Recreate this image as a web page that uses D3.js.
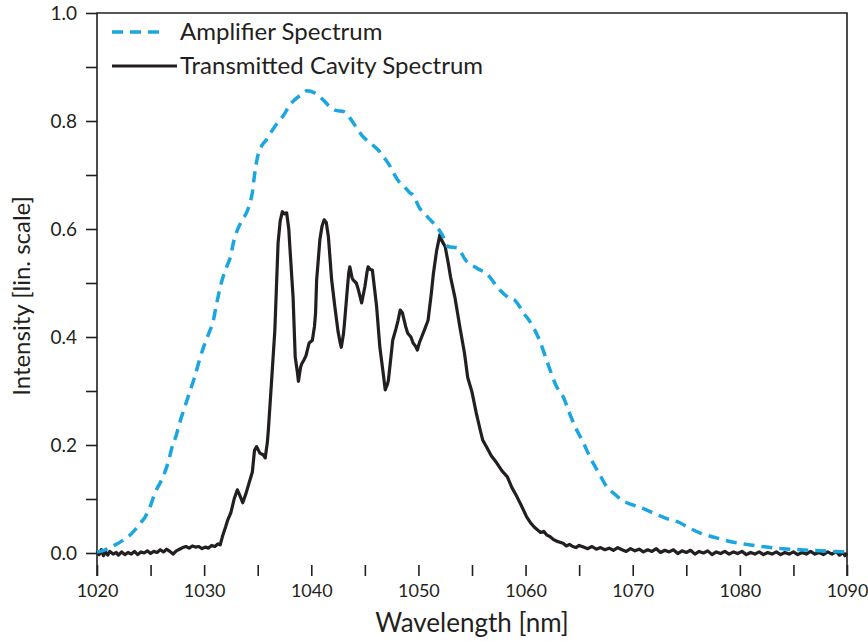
<!DOCTYPE html>
<html>
<head>
<meta charset="utf-8">
<script src="https://cdn.jsdelivr.net/npm/d3@7"></script>
<style>
  body { margin: 0; background: #fff; }
  text { font-family: Lato, "Open Sans", sans-serif; fill: #231f20; }
</style>
</head>
<body>
<div id="chart"></div>
<script>
// amplifier spectrum (dashed blue), [wavelength nm, intensity]
var ampSpectrum = [
  [1020.0,0.002],[1020.5,0.004],[1021.0,0.008],[1021.7,0.015],[1022.3,0.022],[1022.9,0.030],
  [1023.5,0.042],[1024.0,0.054],[1024.5,0.067],[1025.0,0.088],[1025.4,0.111],[1025.9,0.130],
  [1026.3,0.148],[1026.7,0.172],[1027.0,0.196],[1027.4,0.218],[1027.7,0.240],[1028.1,0.265],
  [1028.5,0.289],[1029.1,0.325],[1029.6,0.360],[1030.1,0.390],[1030.5,0.410],[1030.8,0.426],
  [1031.2,0.465],[1031.6,0.500],[1032.1,0.530],[1032.4,0.545],[1032.8,0.580],[1033.1,0.598],
  [1033.5,0.615],[1034.0,0.632],[1034.3,0.650],[1034.5,0.667],[1034.7,0.700],[1035.0,0.735],
  [1035.4,0.755],[1035.8,0.765],[1036.2,0.778],[1036.6,0.790],[1037.0,0.800],[1037.4,0.810],
  [1038.0,0.830],[1038.5,0.840],[1039.0,0.848],[1039.6,0.856],[1040.3,0.852],[1040.8,0.845],
  [1041.3,0.835],[1041.8,0.825],[1042.2,0.820],[1043.1,0.817],[1043.8,0.800],[1044.2,0.788],
  [1044.7,0.774],[1045.2,0.764],[1045.7,0.756],[1046.4,0.743],[1046.8,0.732],[1047.3,0.718],
  [1047.7,0.703],[1048.1,0.690],[1048.7,0.678],[1049.2,0.667],[1049.5,0.663],[1050.1,0.639],
  [1050.6,0.628],[1051.1,0.617],[1051.4,0.611],[1052.2,0.590],[1052.8,0.567],[1053.6,0.565],
  [1054.5,0.540],[1055.5,0.527],[1056.5,0.515],[1057.0,0.502],[1057.6,0.487],[1058.5,0.472],
  [1059.0,0.468],[1059.8,0.445],[1060.7,0.419],[1061.3,0.394],[1062.0,0.355],[1062.9,0.308],
  [1063.5,0.290],[1064.1,0.259],[1064.6,0.235],[1065.4,0.204],[1066.0,0.178],[1066.9,0.146],
  [1067.5,0.125],[1068.2,0.111],[1069.0,0.098],[1070.0,0.089],[1071.0,0.082],[1071.9,0.074],
  [1073.0,0.065],[1074.4,0.056],[1075.3,0.046],[1076.3,0.037],[1077.8,0.028],[1079.4,0.020],
  [1081.0,0.015],[1082.5,0.011],[1084.0,0.008],[1085.6,0.006],[1087.5,0.004],[1090.0,0.002]
];

// transmitted cavity spectrum (solid black)
var cavitySpectrum = [
  [1020.0,0.004],[1020.2,-0.003],[1020.4,0.006],[1020.6,-0.005],[1020.8,0.002],[1021.0,-0.004],
  [1021.2,0.003],[1021.5,-0.002],[1021.8,0.001],[1022.0,-0.004],[1022.3,0.002],[1022.6,-0.003],
  [1022.9,0.001],[1023.2,-0.002],[1023.5,0.003],[1023.8,-0.003],[1024.1,0.002],[1024.4,0.000],
  [1024.7,0.004],[1025.0,-0.001],[1025.3,0.003],[1025.6,0.001],[1025.9,0.006],[1026.2,0.002],
  [1026.5,0.007],[1026.8,0.003],[1027.1,-0.002],[1027.4,0.004],[1027.7,0.007],[1028.0,0.010],
  [1028.3,0.012],[1028.6,0.009],[1028.9,0.013],[1029.2,0.011],[1029.5,0.012],[1029.8,0.008],
  [1030.1,0.011],[1030.4,0.009],[1030.7,0.014],[1031.0,0.012],[1031.3,0.017],[1031.5,0.015],
  [1031.7,0.030],[1032.0,0.048],[1032.2,0.061],[1032.5,0.075],[1032.8,0.100],[1033.1,0.117],
  [1033.3,0.108],[1033.6,0.093],[1033.9,0.110],[1034.2,0.130],[1034.5,0.150],[1034.7,0.190],
  [1034.9,0.197],[1035.2,0.185],[1035.5,0.182],[1035.7,0.176],[1035.9,0.205],[1036.0,0.230],
  [1036.1,0.260],[1036.3,0.320],[1036.6,0.413],[1036.9,0.574],[1037.1,0.615],[1037.3,0.632],
  [1037.5,0.628],[1037.7,0.630],[1037.9,0.600],[1038.0,0.567],[1038.3,0.474],[1038.5,0.363],
  [1038.7,0.335],[1038.8,0.318],[1039.0,0.344],[1039.1,0.350],[1039.3,0.357],[1039.5,0.365],
  [1039.8,0.389],[1040.1,0.394],[1040.3,0.420],[1040.4,0.444],[1040.5,0.506],[1040.6,0.530],
  [1040.8,0.580],[1041.0,0.605],[1041.2,0.617],[1041.4,0.612],[1041.6,0.585],[1041.9,0.506],
  [1042.2,0.456],[1042.5,0.410],[1042.7,0.389],[1042.8,0.381],[1043.0,0.405],[1043.1,0.426],
  [1043.3,0.474],[1043.5,0.520],[1043.6,0.530],[1043.8,0.510],[1043.9,0.506],[1044.2,0.500],
  [1044.4,0.487],[1044.7,0.463],[1045.0,0.493],[1045.2,0.520],[1045.3,0.530],[1045.5,0.525],
  [1045.7,0.524],[1046.1,0.456],[1046.4,0.381],[1046.7,0.335],[1046.9,0.302],[1047.1,0.312],
  [1047.2,0.320],[1047.6,0.394],[1047.9,0.415],[1048.1,0.431],[1048.3,0.450],[1048.5,0.445],
  [1048.6,0.437],[1048.8,0.420],[1049.0,0.407],[1049.3,0.400],[1049.5,0.389],[1049.7,0.384],
  [1049.9,0.376],[1050.1,0.390],[1050.3,0.400],[1050.6,0.415],[1050.9,0.431],[1051.2,0.480],
  [1051.4,0.518],[1051.7,0.560],[1052.0,0.589],[1052.2,0.578],[1052.5,0.567],[1052.8,0.535],
  [1053.0,0.511],[1053.4,0.474],[1053.9,0.415],[1054.3,0.370],[1054.6,0.325],[1055.0,0.298],
  [1055.4,0.259],[1055.8,0.225],[1056.0,0.209],[1056.4,0.195],[1056.8,0.180],[1057.3,0.167],
  [1057.8,0.152],[1058.3,0.141],[1058.7,0.122],[1059.2,0.104],[1059.6,0.088],[1060.1,0.067],
  [1060.5,0.055],[1060.8,0.048],[1061.1,0.043],[1061.4,0.038],[1061.7,0.040],[1062.0,0.033],
  [1062.3,0.030],[1062.6,0.025],[1062.9,0.022],[1063.2,0.020],[1063.5,0.018],[1063.8,0.013],
  [1064.1,0.016],[1064.4,0.012],[1064.7,0.010],[1065.0,0.014],[1065.4,0.011],[1065.8,0.008],
  [1066.2,0.012],[1066.6,0.007],[1067.0,0.010],[1067.4,0.006],[1067.8,0.009],[1068.2,0.005],
  [1068.6,0.010],[1069.0,0.006],[1069.4,0.003],[1069.8,0.008],[1070.2,0.004],[1070.6,0.007],
  [1071.0,0.002],[1071.4,0.006],[1071.8,0.003],[1072.2,0.008],[1072.6,0.001],[1073.0,0.005],
  [1073.4,0.002],[1073.8,0.006],[1074.2,-0.001],[1074.6,0.004],[1075.0,0.001],[1075.4,0.005],
  [1075.8,-0.002],[1076.2,0.003],[1076.6,0.000],[1077.0,0.004],[1077.4,-0.003],[1077.8,0.002],
  [1078.2,-0.001],[1078.6,0.003],[1079.0,-0.002],[1079.4,0.002],[1079.8,-0.001],[1080.2,0.003],
  [1080.6,-0.003],[1081.0,0.001],[1081.4,-0.002],[1081.8,0.002],[1082.2,-0.003],[1082.6,0.001],
  [1083.0,-0.002],[1083.4,0.002],[1083.8,-0.003],[1084.2,0.001],[1084.6,-0.002],[1085.0,0.002],
  [1085.4,-0.003],[1085.8,0.001],[1086.2,-0.002],[1086.6,0.003],[1087.0,-0.002],[1087.4,0.001],
  [1087.8,-0.003],[1088.2,0.002],[1088.6,-0.002],[1089.0,0.003],[1089.3,-0.004],[1089.6,0.001],
  [1089.8,-0.005],[1090.0,0.000]
];

var xTicks = [1020, 1025, 1030, 1035, 1040, 1045, 1050, 1055, 1060, 1065, 1070, 1075, 1080, 1085, 1090];
var yTicks = [0, 0.1, 0.2, 0.3, 0.4, 0.5, 0.6, 0.7, 0.8, 0.9, 1.0];
var seriesNames = ["Amplifier Spectrum", "Transmitted Cavity Spectrum"];

var width = 868, height = 641;
var plotLeft = 97, plotRight = 847, plotTop = 13, zeroY = 553, bottomY = 565;

var svg = d3.select("#chart").append("svg")
  .attr("width", width)
  .attr("height", height);

var x = d3.scaleLinear().domain([1020, 1090]).range([plotLeft, plotRight]);
var y = d3.scaleLinear().domain([0, 1]).range([zeroY, plotTop]);

// frame: top, left, right (no bottom line)
svg.append("path")
  .attr("d", "M" + plotLeft + "," + (bottomY + 11) + "V" + plotTop + "H" + plotRight + "V" + (bottomY + 11))
  .attr("fill", "none")
  .attr("stroke", "#231f20")
  .attr("stroke-width", 1.6);

// x axis
var xAxis = svg.append("g")
  .attr("transform", "translate(0," + bottomY + ")")
  .call(d3.axisBottom(x).tickValues(xTicks).tickSize(11).tickPadding(8)
    .tickFormat(function(d) { return d % 10 === 0 ? d : ""; }));
xAxis.select(".domain").remove();
xAxis.selectAll("line").attr("stroke", "#231f20").attr("stroke-width", 1.6);
xAxis.selectAll("text").style("font-size", "18px").style("font-family", "Lato, sans-serif").attr("fill", "#231f20");

// y axis
var yAxis = svg.append("g")
  .attr("transform", "translate(" + plotLeft + ",0)")
  .call(d3.axisLeft(y).tickValues(yTicks).tickSize(11).tickPadding(9)
    .tickFormat(function(d, i) { return i % 2 === 0 ? d3.format(".1f")(d) : ""; }));
yAxis.select(".domain").remove();
yAxis.selectAll("line").attr("stroke", "#231f20").attr("stroke-width", 1.6);
yAxis.selectAll("text").style("font-size", "19px").style("font-family", "Lato, sans-serif").attr("fill", "#231f20");

// lines
var line = d3.line()
  .x(function(d) { return x(d[0]); })
  .y(function(d) { return y(d[1]); });

svg.append("path")
  .datum(cavitySpectrum)
  .attr("d", line)
  .attr("fill", "none")
  .attr("stroke", "#231f20")
  .attr("stroke-width", 3.2)
  .attr("stroke-linejoin", "round");

svg.append("path")
  .datum(ampSpectrum)
  .attr("d", line.curve(d3.curveMonotoneX))
  .attr("fill", "none")
  .attr("stroke", "#1aa6e0")
  .attr("stroke-width", 3.5)
  .attr("stroke-dasharray", "11,7");

// legend
var legend = svg.append("g");
legend.append("line")
  .attr("x1", 112).attr("x2", 166).attr("y1", 32).attr("y2", 32)
  .attr("stroke", "#1aa6e0").attr("stroke-width", 3.5).attr("stroke-dasharray", "11,7");
legend.append("line")
  .attr("x1", 112).attr("x2", 177).attr("y1", 66).attr("y2", 66)
  .attr("stroke", "#231f20").attr("stroke-width", 3.2);
legend.selectAll("text.lg")
  .data(seriesNames)
  .enter()
  .append("text")
  .attr("class", "lg")
  .attr("x", 180)
  .attr("y", function(d, i) { return 32 + i * 34; })
  .attr("dy", "0.35em")
  .style("font-size", "24px")
  .text(function(d) { return d; });

// axis titles
svg.append("text")
  .attr("x", 472)
  .attr("y", 632)
  .style("text-anchor", "middle")
  .style("font-size", "26px")
  .text("Wavelength [nm]");

svg.append("text")
  .attr("transform", "translate(30,296)rotate(-90)")
  .style("text-anchor", "middle")
  .style("font-size", "24px")
  .text("Intensity [lin. scale]");
</script>
</body>
</html>
